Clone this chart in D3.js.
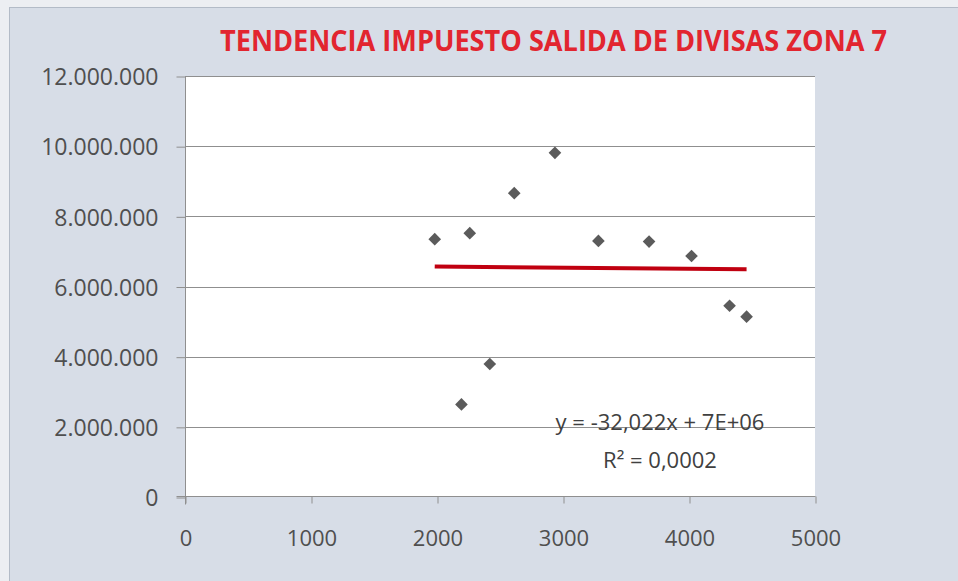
<!DOCTYPE html>
<html>
<head>
<meta charset="utf-8">
<script src="https://cdn.jsdelivr.net/npm/d3@7"></script>
<style>
  body { margin: 0; background: #eceef2; }
  svg { display: block; }
  .tick-label { font-family: 'Open Sans', sans-serif; fill: #4f4f4f; }
  .chart-title { font-family: 'Open Sans', sans-serif; font-weight: bold; fill: #e2252f; }
  .trend-label { font-family: 'Open Sans', sans-serif; fill: #404040; }
</style>
</head>
<body>
<svg></svg>
<script>
// data
const xValues = [1982, 2260, 2194, 2419, 2613, 2936, 3281, 3683, 4020, 4322, 4457]
const yValues = [7350000, 7520000, 2640000, 3790000, 8660000, 9810000, 7300000, 7280000, 6870000, 5450000, 5140000]
const xTicks = [0, 1000, 2000, 3000, 4000, 5000]
const yTicks = [0, 2000000, 4000000, 6000000, 8000000, 10000000, 12000000]
const trendSlope = -32.022
const trendIntercept = 6633000
const trendText = ['y = -32,022x + 7E+06', 'R² = 0,0002']
const title = 'TENDENCIA IMPUESTO SALIDA DE DIVISAS ZONA 7'

const app = () => {
  const w = 958
  const h = 581
  const plot = { left: 185, right: 815, top: 76, bottom: 497 }

  const svg = d3.select('svg')
    .attr('width', w)
    .attr('height', h)

  // chart area background
  svg.append('rect')
    .attr('x', 9.5)
    .attr('y', 7.5)
    .attr('width', w)
    .attr('height', h)
    .attr('fill', '#d7dde7')
    .attr('stroke', '#b3bbc7')

  // plot area
  svg.append('rect')
    .attr('x', plot.left)
    .attr('y', plot.top)
    .attr('width', plot.right - plot.left)
    .attr('height', plot.bottom - plot.top)
    .attr('fill', '#ffffff')

  const esLocale = d3.formatLocale({ decimal: ',', thousands: '.', grouping: [3], currency: ['', ''] })
  const fmt = esLocale.format(',')

  const xScale = d3.scaleLinear().domain([0, 5000]).range([plot.left, plot.right])
  const yScale = d3.scaleLinear().domain([0, 12000000]).range([plot.bottom, plot.top])

  // horizontal gridlines
  svg.append('g')
    .selectAll('line')
    .data(yTicks.filter(d => d > 0))
    .enter()
    .append('line')
    .attr('x1', plot.left)
    .attr('x2', plot.right)
    .attr('y1', d => Math.round(yScale(d)) + 0.5)
    .attr('y2', d => Math.round(yScale(d)) + 0.5)
    .attr('stroke', '#8f8f8f')

  // y axis
  const yAxis = d3.axisLeft(yScale)
    .tickValues(yTicks)
    .tickSize(9)
    .tickPadding(18)
    .tickFormat(d => fmt(d))

  const gy = svg.append('g')
    .attr('transform', `translate(${plot.left + 0.5}, 0.5)`)
    .call(yAxis)
  gy.select('.domain').attr('stroke', '#8f8f8f').attr('d', `M0,${plot.top}V${plot.bottom + 7}`)
  gy.selectAll('.tick line').attr('stroke', '#8f8f8f')
  gy.selectAll('.tick text')
    .attr('class', 'tick-label')
    .attr('font-size', 23)
    .attr('dy', '0.36em')

  // x axis
  const xAxis = d3.axisBottom(xScale)
    .tickValues(xTicks)
    .tickSize(7)
    .tickPadding(35)
    .tickFormat(d => d)

  const gx = svg.append('g')
    .attr('transform', `translate(0.5, ${plot.bottom - 0.5})`)
    .call(xAxis)
  gx.select('.domain').attr('stroke', '#8f8f8f').attr('d', `M${plot.left - 9},0H${plot.right}`)
  gx.selectAll('.tick line').attr('stroke', '#8f8f8f')
  gx.selectAll('.tick text')
    .attr('class', 'tick-label')
    .attr('font-size', 22)
    .attr('dy', '0.36em')

  // points
  const points = xValues.map((x, i) => ({ x, y: yValues[i] }))
  const diamond = d3.symbol().type(d3.symbolSquare).size(80)

  svg.append('g')
    .selectAll('path')
    .data(points)
    .enter()
    .append('path')
    .attr('d', diamond)
    .attr('transform', d => `translate(${xScale(d.x)}, ${yScale(d.y)}) rotate(45)`)
    .attr('fill', '#5b5b5b')

  // linear trend line over the data range
  const xMin = d3.min(xValues)
  const xMax = d3.max(xValues)
  svg.append('line')
    .attr('x1', xScale(xMin))
    .attr('x2', xScale(xMax))
    .attr('y1', yScale(trendSlope * xMin + trendIntercept))
    .attr('y2', yScale(trendSlope * xMax + trendIntercept))
    .attr('stroke', '#c00010')
    .attr('stroke-width', 4)

  // trend equation
  svg.selectAll('.trend-label')
    .data(trendText)
    .enter()
    .append('text')
    .attr('class', 'trend-label')
    .attr('text-anchor', 'middle')
    .attr('x', 660)
    .attr('y', (d, i) => 430 + i * 38)
    .attr('font-size', 22)
    .text(d => d)

  // chart title
  svg.append('text')
    .attr('class', 'chart-title')
    .attr('x', 220)
    .attr('y', 51)
    .attr('font-size', 29)
    .attr('textLength', 667)
    .attr('lengthAdjust', 'spacingAndGlyphs')
    .text(title)
}

app()
</script>
</body>
</html>
